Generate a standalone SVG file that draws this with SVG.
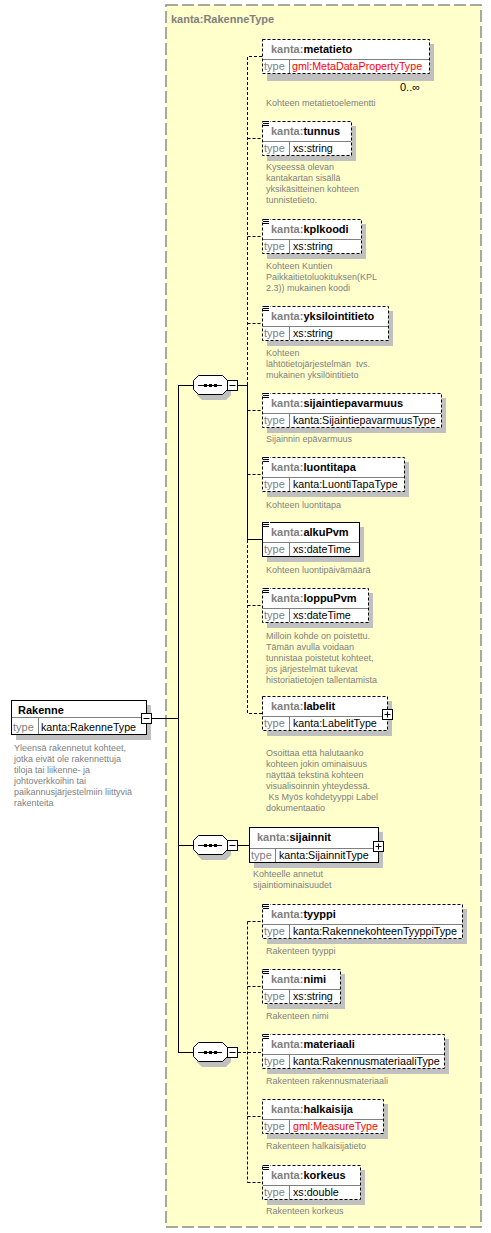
<svg xmlns="http://www.w3.org/2000/svg" width="491" height="1233" viewBox="0 0 491 1233">
<style>
text{font-family:"Liberation Sans",Arial,sans-serif;white-space:pre}
.bg{fill:#FFFFCC;stroke:#8c8c8c;stroke-width:1.5;stroke-dasharray:12,4}
.title{font-size:11px;font-weight:bold;fill:#808080}
.box{fill:#fff;stroke:#000;stroke-width:1}
.dash{stroke-dasharray:3,2}
.sh{fill:#c0c0c0}
.div{stroke:#808080;stroke-width:1;fill:none}
.hdr{font-size:11px;font-weight:bold;fill:#000}
.ns{fill:#808080}
.tl{font-size:11px;fill:#808080}
.tv{font-size:10.7px;fill:#000}
.red{fill:#f00}
.desc{font-size:9px;fill:#808080}
.ln{stroke:#000;stroke-width:1;fill:none}
.dl{stroke:#000;stroke-width:1;fill:none;stroke-dasharray:3,2}
.ico{stroke:#000;stroke-width:1}
.pm{fill:#fff;stroke:#000;stroke-width:1}
.mult{font-size:11px;fill:#000}
</style>
<defs>
<g id="doc"><rect x="0" y="-1" width="7" height="6" fill="#fff"/><path class="ico" d="M0,0.5H6M0,2.5H6M0,4.5H6"/></g>
<g id="comp"><path class="sh" d="M5,-6H29L34,-1V9L29,14H5L0,9V-1Z" transform="translate(4,1)"/><path d="M5.5,-9.5H29.5L34.5,-4.5V4.5L29.5,9.5H5.5L0.5,4.5V-4.5Z" fill="#fff" stroke="#000"/><path class="ln" d="M5,0.5H29"/><rect x="11" y="-1" width="3" height="3"/><rect x="16" y="-1" width="3" height="3"/><rect x="21" y="-1" width="3" height="3"/><rect class="pm" x="34.5" y="-4.5" width="10" height="10"/><path class="ln" d="M36.5,0.5H42.5"/></g>
</defs>
<rect class="bg" x="166" y="5" width="315" height="1222"/>
<text class="title" x="171" y="23">kanta:RakenneType</text>

<g id="connectors">
<path class="ln" d="M151,718.5H178.5M178.5,385V1052M178,385.5H193M178,845.5H193M178,1052.5H193"/>
<path class="ln" d="M238,385.5H247.5M247.5,385V539.5M247,539.5H262"/>
<path class="dl" d="M247.5,385V56.5H262M247.5,138.5H262M247.5,236.5H262M247.5,323.5H262M247.5,410.5H262M247.5,474.5H262"/>
<path class="dl" d="M247.5,540V713.5H262M247.5,605.5H262"/>
<path class="ln" d="M238,845.5H249"/>
<path class="dl" d="M238,1052.5H262M247.5,921.5V1182.5M247.5,921.5H262M247.5,986.5H262M247.5,1116.5H262M247.5,1182.5H262"/>
</g>

<g id="seq1" transform="translate(193,385)"><use href="#comp"/></g>
<g id="seq2" transform="translate(193,845)"><use href="#comp"/></g>
<g id="seq3" transform="translate(193,1052)"><use href="#comp"/></g>

<g id="Rakenne">
<rect class="sh" x="16" y="705" width="135" height="35"/>
<rect class="box" x="11.5" y="700.5" width="135" height="34"/>
<path class="div" d="M12,717.5H146M38.5,718V734"/>
<text class="hdr" x="18" y="714">Rakenne</text>
<text class="tl" x="13" y="731">type</text>
<text class="tv" x="41" y="731">kanta:RakenneType</text>
<rect class="pm" x="141.5" y="713.5" width="10" height="10"/><path class="ln" d="M143.5,718.5H149.5"/>
<text class="desc" x="14" y="751">Yleensä rakennetut kohteet,</text>
<text class="desc" x="14" y="762">jotka eivät ole rakennettuja</text>
<text class="desc" x="14" y="773">tiloja tai liikenne- ja</text>
<text class="desc" x="14" y="784">johtoverkkoihin tai</text>
<text class="desc" x="14" y="795">paikannusjärjestelmiin liittyviä</text>
<text class="desc" x="14" y="806">rakenteita</text>
</g>

<g id="metatieto">
<rect class="sh" x="267" y="44" width="167" height="37"/>
<rect class="box dash" x="262.5" y="39.5" width="167" height="34"/>
<path class="div" d="M263,59.5H429M289.5,60V73"/>
<text class="hdr" x="271" y="53"><tspan class="ns">kanta:</tspan>metatieto</text>
<text class="tl" x="264" y="70">type</text>
<text class="tv red" x="292" y="70">gml:MetaDataPropertyType</text>
<text class="mult" x="400" y="91">0..∞</text>
<text class="desc" x="266" y="106">Kohteen metatietoelementti</text>
</g>

<g id="tunnus">
<rect class="sh" x="267" y="126" width="89" height="35"/>
<rect class="box dash" x="262.5" y="121.5" width="89" height="34"/>
<path class="div" d="M263,141.5H351M289.5,142V155"/>
<use href="#doc" x="263" y="121"/>
<text class="hdr" x="271" y="135"><tspan class="ns">kanta:</tspan>tunnus</text>
<text class="tl" x="264" y="152">type</text>
<text class="tv" x="293" y="152">xs:string</text>
<text class="desc" x="266" y="170">Kyseessä olevan</text>
<text class="desc" x="266" y="181">kantakartan sisällä</text>
<text class="desc" x="266" y="192">yksikäsitteinen kohteen</text>
<text class="desc" x="266" y="203">tunnistetieto.</text>
</g>

<g id="kplkoodi">
<rect class="sh" x="267" y="224" width="99" height="35"/>
<rect class="box dash" x="262.5" y="219.5" width="99" height="34"/>
<path class="div" d="M263,239.5H361M289.5,240V253"/>
<use href="#doc" x="263" y="219"/>
<text class="hdr" x="271" y="233"><tspan class="ns">kanta:</tspan>kplkoodi</text>
<text class="tl" x="264" y="250">type</text>
<text class="tv" x="293" y="250">xs:string</text>
<text class="desc" x="266" y="269">Kohteen Kuntien</text>
<text class="desc" x="266" y="280">Paikkaitietoluokituksen(KPL</text>
<text class="desc" x="266" y="291">2.3)) mukainen koodi</text>
</g>

<g id="yksilointitieto">
<rect class="sh" x="267" y="311" width="126" height="35"/>
<rect class="box dash" x="262.5" y="306.5" width="126" height="34"/>
<path class="div" d="M263,326.5H388M289.5,327V340"/>
<use href="#doc" x="263" y="306"/>
<text class="hdr" x="271" y="320"><tspan class="ns">kanta:</tspan>yksilointitieto</text>
<text class="tl" x="264" y="337">type</text>
<text class="tv" x="293" y="337">xs:string</text>
<text class="desc" x="266" y="356">Kohteen</text>
<text class="desc" x="266" y="367">lähtötietojärjestelmän  tvs.</text>
<text class="desc" x="266" y="378">mukainen yksilöintitieto</text>
</g>

<g id="sijaintiepavarmuus">
<rect class="sh" x="267" y="398" width="179" height="35"/>
<rect class="box dash" x="262.5" y="393.5" width="179" height="34"/>
<path class="div" d="M263,413.5H441M289.5,414V427"/>
<use href="#doc" x="263" y="393"/>
<text class="hdr" x="271" y="407"><tspan class="ns">kanta:</tspan>sijaintiepavarmuus</text>
<text class="tl" x="264" y="424">type</text>
<text class="tv" x="293" y="424">kanta:SijaintiepavarmuusType</text>
<text class="desc" x="266" y="442">Sijainnin epävarmuus</text>
</g>

<g id="luontitapa">
<rect class="sh" x="267" y="462" width="142" height="35"/>
<rect class="box dash" x="262.5" y="457.5" width="142" height="34"/>
<path class="div" d="M263,477.5H404M289.5,478V491"/>
<use href="#doc" x="263" y="457"/>
<text class="hdr" x="271" y="471"><tspan class="ns">kanta:</tspan>luontitapa</text>
<text class="tl" x="264" y="488">type</text>
<text class="tv" x="293" y="488">kanta:LuontiTapaType</text>
<text class="desc" x="266" y="508">Kohteen luontitapa</text>
</g>

<g id="alkuPvm">
<rect class="sh" x="267" y="527" width="97" height="35"/>
<rect class="box" x="262.5" y="522.5" width="97" height="34"/>
<path class="div" d="M263,542.5H359M289.5,543V556"/>
<use href="#doc" x="263" y="522"/>
<text class="hdr" x="271" y="536"><tspan class="ns">kanta:</tspan>alkuPvm</text>
<text class="tl" x="264" y="553">type</text>
<text class="tv" x="293" y="553">xs:dateTime</text>
<text class="desc" x="266" y="573">Kohteen luontipäivämäärä</text>
</g>

<g id="loppuPvm">
<rect class="sh" x="267" y="593" width="106" height="35"/>
<rect class="box dash" x="262.5" y="588.5" width="106" height="34"/>
<path class="div" d="M263,608.5H368M289.5,609V622"/>
<use href="#doc" x="263" y="588"/>
<text class="hdr" x="271" y="602"><tspan class="ns">kanta:</tspan>loppuPvm</text>
<text class="tl" x="264" y="619">type</text>
<text class="tv" x="293" y="619">xs:dateTime</text>
<text class="desc" x="266" y="639">Milloin kohde on poistettu.</text>
<text class="desc" x="266" y="650">Tämän avulla voidaan</text>
<text class="desc" x="266" y="661">tunnistaa poistetut kohteet,</text>
<text class="desc" x="266" y="672">jos järjestelmät tukevat</text>
<text class="desc" x="266" y="683">historiatietojen tallentamista</text>
</g>

<g id="labelit">
<rect class="sh" x="267" y="701" width="125" height="35"/>
<rect class="box dash" x="262.5" y="696.5" width="125" height="34"/>
<path class="div" d="M263,716.5H387M289.5,717V730"/>
<text class="hdr" x="271" y="710"><tspan class="ns">kanta:</tspan>labelit</text>
<text class="tl" x="264" y="727">type</text>
<text class="tv" x="293" y="727">kanta:LabelitType</text>
<rect class="pm" x="382.5" y="709.5" width="10" height="10"/><path class="ln" d="M384.5,714.5H390.5M387.5,711.5V717.5"/>
<text class="desc" x="266" y="756">Osoittaa että halutaanko</text>
<text class="desc" x="266" y="767">kohteen jokin ominaisuus</text>
<text class="desc" x="266" y="778">näyttää tekstinä kohteen</text>
<text class="desc" x="266" y="789">visualisoinnin yhteydessä.</text>
<text class="desc" x="266" y="800"> Ks Myös kohdetyyppi Label</text>
<text class="desc" x="266" y="811">dokumentaatio</text>
</g>

<g id="sijainnit">
<rect class="sh" x="254" y="832" width="129" height="36"/>
<rect class="box" x="249.5" y="827.5" width="129" height="35"/>
<path class="div" d="M250,848.5H378M275.5,849V862"/>
<text class="hdr" x="257" y="841"><tspan class="ns">kanta:</tspan>sijainnit</text>
<text class="tl" x="251" y="859">type</text>
<text class="tv" x="279" y="859">kanta:SijainnitType</text>
<rect class="pm" x="373.5" y="841.5" width="10" height="10"/><path class="ln" d="M375.5,846.5H381.5M378.5,843.5V849.5"/>
<text class="desc" x="253" y="877">Kohteelle annetut</text>
<text class="desc" x="253" y="888">sijaintiominaisuudet</text>
</g>

<g id="tyyppi">
<rect class="sh" x="267" y="909" width="200" height="35"/>
<rect class="box dash" x="262.5" y="904.5" width="200" height="34"/>
<path class="div" d="M263,924.5H462M289.5,925V938"/>
<use href="#doc" x="263" y="904"/>
<text class="hdr" x="271" y="918"><tspan class="ns">kanta:</tspan>tyyppi</text>
<text class="tl" x="264" y="935">type</text>
<text class="tv" x="293" y="935">kanta:RakennekohteenTyyppiType</text>
<text class="desc" x="266" y="954">Rakenteen tyyppi</text>
</g>

<g id="nimi">
<rect class="sh" x="267" y="974" width="78" height="35"/>
<rect class="box dash" x="262.5" y="969.5" width="78" height="34"/>
<path class="div" d="M263,989.5H340M289.5,990V1003"/>
<use href="#doc" x="263" y="969"/>
<text class="hdr" x="271" y="983"><tspan class="ns">kanta:</tspan>nimi</text>
<text class="tl" x="264" y="1000">type</text>
<text class="tv" x="293" y="1000">xs:string</text>
<text class="desc" x="266" y="1019">Rakenteen nimi</text>
</g>

<g id="materiaali">
<rect class="sh" x="267" y="1039" width="182" height="35"/>
<rect class="box dash" x="262.5" y="1034.5" width="182" height="34"/>
<path class="div" d="M263,1054.5H444M289.5,1055V1068"/>
<use href="#doc" x="263" y="1034"/>
<text class="hdr" x="271" y="1048"><tspan class="ns">kanta:</tspan>materiaali</text>
<text class="tl" x="264" y="1065">type</text>
<text class="tv" x="293" y="1065">kanta:RakennusmateriaaliType</text>
<text class="desc" x="266" y="1084">Rakenteen rakennusmateriaali</text>
</g>

<g id="halkaisija">
<rect class="sh" x="267" y="1104" width="121" height="35"/>
<rect class="box dash" x="262.5" y="1099.5" width="121" height="34"/>
<path class="div" d="M263,1119.5H383M289.5,1120V1133"/>
<text class="hdr" x="271" y="1113"><tspan class="ns">kanta:</tspan>halkaisija</text>
<text class="tl" x="264" y="1130">type</text>
<text class="tv red" x="293" y="1130">gml:MeasureType</text>
<text class="desc" x="266" y="1149">Rakenteen halkaisijatieto</text>
</g>

<g id="korkeus">
<rect class="sh" x="267" y="1170" width="98" height="35"/>
<rect class="box dash" x="262.5" y="1165.5" width="98" height="34"/>
<path class="div" d="M263,1185.5H360M289.5,1186V1199"/>
<use href="#doc" x="263" y="1165"/>
<text class="hdr" x="271" y="1179"><tspan class="ns">kanta:</tspan>korkeus</text>
<text class="tl" x="264" y="1196">type</text>
<text class="tv" x="293" y="1196">xs:double</text>
<text class="desc" x="266" y="1214">Rakenteen korkeus</text>
</g>
</svg>
